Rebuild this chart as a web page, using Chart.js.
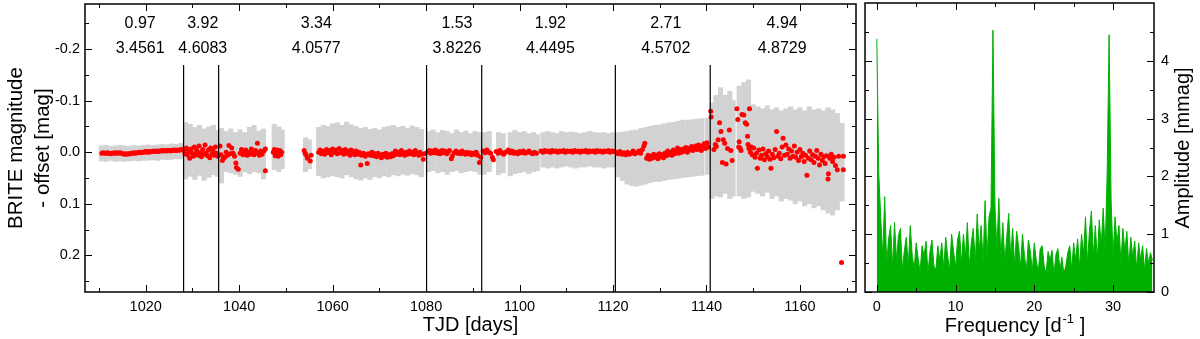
<!DOCTYPE html>
<html lang="en">
<head>
    <meta charset="UTF-8">
    <title>BRITE light curve and periodogram</title>
    <style>
        body {
            margin: 0;
            padding: 0;
            background-color: #fff;
        }

        .wrap {
            position: relative;
            width: 1200px;
            height: 339px;
        }

        .wrap canvas {
            position: absolute;
            top: 0;
        }
    </style>
</head>
<body>

<div class="wrap">
    <canvas id="lightCurve" width="860" height="339" style="left:0"></canvas>
    <canvas id="periodogram" width="340" height="339" style="left:860px"></canvas>
</div>

<script src="https://cdn.jsdelivr.net/npm/chart.js"></script>

<script>
// ---- light curve: gray cloud envelope (one bar per ~day) ----
const grayT = [
    1010.5, 1011.5, 1012.5, 1013.5, 1014.5, 1015.5, 1016.5, 1017.5, 1018.5, 1019.5,
    1020.5, 1021.5, 1022.5, 1023.5, 1024.5, 1025.5, 1026.5, 1027.5,
    1028.5, 1029.5, 1030.5, 1031.5, 1032.5, 1033.5, 1034.5, 1035.3,
    1036.2, 1037.2, 1038.2, 1039.2, 1040.2, 1041.2, 1042.2, 1043.2, 1044.2, 1045.2,
    1047.5, 1048.5, 1049.2,
    1054.2, 1055.0,
    1057, 1058, 1059, 1060, 1061, 1062, 1063, 1064, 1065, 1066, 1067, 1068, 1069, 1070,
    1071, 1072, 1073, 1074, 1075, 1076, 1077, 1078, 1079,
    1080.5, 1081.5, 1082.5, 1083.5, 1084.5, 1085.5, 1086.5, 1087.5, 1088.5, 1089.5, 1090.5, 1091.5,
    1092.5, 1093.5, 1095.5, 1096.5, 1098, 1099, 1100, 1101, 1102, 1103, 1103.8,
    1105, 1106, 1107, 1108, 1109, 1110, 1111, 1112, 1113, 1114, 1115, 1116, 1117, 1118, 1119, 1120,
    1121, 1122, 1123, 1124, 1125, 1126, 1127, 1128, 1129, 1130, 1131, 1132, 1133, 1134, 1135,
    1136, 1137, 1138, 1139, 1140.2,
    1141.2, 1142, 1143, 1144, 1145, 1145.7, 1147, 1148, 1149,
    1150, 1151, 1152, 1153, 1154, 1155, 1156, 1157, 1158, 1159, 1160, 1161, 1162, 1163, 1164,
    1165, 1166, 1167, 1168, 1169
];
const grayLo = [
    -0.012, -0.013, -0.011, -0.012, -0.013, -0.012, -0.011, -0.013, -0.012, -0.013,
    -0.014, -0.013, -0.014, -0.015, -0.014, -0.016, -0.015, -0.017,
    -0.058, -0.054, -0.048, -0.052, -0.045, -0.049, -0.052, -0.042,
    -0.046, -0.040, -0.045, -0.038, -0.043, -0.038, -0.048, -0.052, -0.041, -0.045,
    -0.054, -0.049, -0.043,
    -0.028, -0.024,
    -0.048, -0.052, -0.050, -0.055, -0.057, -0.052, -0.058, -0.053, -0.050, -0.046, -0.048, -0.044, -0.046, -0.043,
    -0.048, -0.050, -0.052, -0.048, -0.050, -0.046, -0.051, -0.048, -0.044,
    -0.040, -0.043, -0.038, -0.042, -0.040, -0.036, -0.043, -0.038, -0.041, -0.036, -0.040, -0.038,
    -0.038, -0.040, -0.038, -0.036, -0.038, -0.042, -0.038, -0.040, -0.036, -0.038, -0.034,
    -0.038, -0.040, -0.038, -0.036, -0.040, -0.038, -0.039, -0.038, -0.036, -0.038, -0.040, -0.038, -0.037, -0.038, -0.036, -0.038,
    -0.038, -0.039, -0.040, -0.042, -0.043, -0.046, -0.048, -0.050, -0.052, -0.053, -0.055, -0.057, -0.058, -0.060, -0.062,
    -0.062, -0.063, -0.064, -0.065, -0.066,
    -0.095, -0.110, -0.125, -0.110, -0.118, -0.100, -0.128, -0.135, -0.140,
    -0.092, -0.088, -0.084, -0.090, -0.082, -0.086, -0.080, -0.084, -0.088, -0.082, -0.086, -0.080, -0.088, -0.082, -0.084,
    -0.080, -0.086, -0.082, -0.075, -0.056
];
const grayHi = [
    0.017, 0.018, 0.016, 0.018, 0.017, 0.018, 0.017, 0.016, 0.017, 0.016,
    0.016, 0.015, 0.016, 0.014, 0.015, 0.014, 0.013, 0.013,
    0.052, 0.047, 0.053, 0.045, 0.055, 0.049, 0.044, 0.047,
    0.060, 0.038, 0.040, 0.043, 0.047, 0.038, 0.042, 0.038, 0.040, 0.052,
    0.034, 0.038, 0.032,
    0.038, 0.032,
    0.046, 0.050, 0.048, 0.046, 0.048, 0.050, 0.044, 0.048, 0.052, 0.054, 0.050, 0.053, 0.048, 0.050,
    0.046, 0.048, 0.044, 0.046, 0.043, 0.045, 0.042, 0.044, 0.048,
    0.038, 0.036, 0.040, 0.038, 0.043, 0.038, 0.036, 0.040, 0.038, 0.036, 0.038, 0.043,
    0.043, 0.038, 0.044, 0.040, 0.046, 0.042, 0.040, 0.038, 0.042, 0.038, 0.036,
    0.029, 0.031, 0.029, 0.031, 0.029, 0.027, 0.029, 0.031, 0.029, 0.029, 0.027, 0.029, 0.029, 0.031, 0.029, 0.029,
    0.048, 0.055, 0.062, 0.065, 0.066, 0.064, 0.062, 0.059, 0.057, 0.057, 0.055, 0.053, 0.052, 0.051, 0.049,
    0.048, 0.047, 0.046, 0.045, 0.043,
    0.090, 0.085, 0.087, 0.080, 0.090, 0.085, 0.085, 0.090, 0.087,
    0.076, 0.080, 0.085, 0.078, 0.090, 0.085, 0.095, 0.090, 0.093, 0.100, 0.095, 0.104, 0.100, 0.108, 0.104,
    0.112, 0.118, 0.122, 0.112, 0.095
];

// ---- light curve: red binned points [TJD, mag] ----
const redPts = [
    [1010.6,0.002],[1010.9,0.001],[1011.2,0.002],[1011.5,0.002],[1011.8,0.001],[1012.1,0.002],[1012.4,0.003],[1012.7,0.002],
    [1013.0,0.002],[1013.3,0.001],[1013.6,0.002],[1013.9,0.001],[1014.2,0.002],[1014.5,0.001],[1014.8,0.002],[1015.1,0.003],
    [1015.4,0.004],[1015.7,0.003],[1016.0,0.004],[1016.3,0.003],[1016.6,0.003],[1016.9,0.002],[1017.2,0.002],[1017.5,0.001],
    [1017.8,0.002],[1018.1,0.001],[1018.4,0.001],[1018.7,0.0],[1019.0,0.001],[1019.3,0.0],[1019.6,0.0],[1019.9,-0.001],
    [1020.2,0.0],[1020.5,-0.001],[1020.8,0.0],[1021.1,-0.001],[1021.4,-0.001],[1021.7,-0.002],[1022.0,-0.001],[1022.3,-0.002],
    [1022.6,-0.001],[1022.9,-0.002],[1023.2,-0.002],[1023.5,-0.003],[1023.8,-0.002],[1024.1,-0.003],[1024.4,-0.002],[1024.7,-0.003],
    [1025.0,-0.003],[1025.3,-0.002],[1025.6,-0.003],[1025.9,-0.004],[1026.2,-0.003],[1026.5,-0.004],[1026.8,-0.003],[1027.1,-0.004],
    [1027.4,-0.004],[1027.7,-0.005],[1027.9,-0.004],
    [1028.2,-0.004],[1028.4,0.003],[1028.7,-0.008],[1028.9,0.005],[1029.2,-0.002],[1029.4,0.012],[1029.7,-0.006],[1029.9,0.002],
    [1030.2,0.008],[1030.4,-0.010],[1030.7,0.003],[1030.9,-0.003],[1031.2,0.006],[1031.4,-0.012],[1031.7,0.001],[1031.9,0.009],
    [1032.2,-0.005],[1032.4,0.004],[1032.7,-0.014],[1032.9,0.002],[1033.2,0.007],[1033.4,-0.004],[1033.7,0.011],[1033.9,-0.008],
    [1034.2,0.003],[1034.4,-0.002],[1034.7,0.006],[1034.9,-0.010],[1035.2,0.002],[1035.4,0.008],
    [1035.9,-0.012],[1036.1,0.005],[1036.4,0.016],[1036.6,0.012],[1036.9,0.010],[1037.2,0.0],[1037.5,0.006],[1037.8,-0.013],
    [1038.1,0.003],[1038.4,-0.008],[1038.7,0.002],[1039.0,0.008],[1039.3,0.021],[1039.4,0.030],[1039.8,0.033],[1040.2,0.002],
    [1040.5,-0.005],[1040.8,0.005],[1041.1,0.001],[1041.4,-0.004],[1041.7,0.006],[1042.0,0.0],[1042.3,0.004],[1042.6,-0.006],
    [1042.9,0.002],[1043.2,0.005],[1043.5,-0.003],[1043.9,-0.017],[1044.0,0.001],[1044.3,0.006],[1044.6,-0.002],[1044.9,0.004],
    [1045.3,-0.002],[1045.6,-0.006],[1045.6,0.036],
    [1047.3,0.0],[1047.5,-0.005],[1047.7,0.007],[1047.9,0.002],[1048.1,-0.004],[1048.3,0.008],[1048.5,0.001],[1048.7,-0.003],
    [1048.9,0.005],[1049.1,0.0],
    [1053.9,-0.003],[1054.1,0.002],[1054.3,0.005],[1054.6,0.012],[1055.2,0.017],[1055.4,0.006],
    [1057.0,0.0],[1057.3,-0.004],[1057.6,0.003],[1058.0,-0.002],[1058.3,0.004],[1058.7,-0.005],[1059.0,0.001],[1059.4,-0.003],
    [1059.7,0.005],[1060.0,-0.006],[1060.4,0.0],[1060.7,-0.004],[1061.0,0.003],[1061.4,-0.007],[1061.7,0.001],[1062.0,-0.003],
    [1062.4,0.004],[1062.7,-0.005],[1063.0,0.002],[1063.4,-0.002],[1063.7,0.006],[1064.0,-0.004],[1064.4,0.001],[1064.7,0.005],
    [1065.0,-0.002],[1065.4,0.004],[1065.7,0.0],[1066.0,0.025],[1066.2,0.006],[1066.6,0.002],[1067.0,0.008],[1067.4,0.022],
    [1067.6,0.003],[1068.0,0.006],[1068.4,0.0],[1068.7,0.007],[1069.0,0.003],[1069.4,0.009],[1069.7,0.002],[1070.0,0.006],
    [1070.4,0.011],[1070.7,0.004],[1071.0,0.008],[1071.4,0.002],[1071.7,0.010],[1072.0,0.005],[1072.4,0.009],[1072.7,0.003],
    [1073.0,0.007],[1073.4,-0.002],[1073.7,0.004],[1074.0,0.0],[1074.4,0.005],[1074.7,-0.003],[1075.0,0.002],[1075.4,0.006],
    [1075.7,0.0],[1076.0,0.004],[1076.4,-0.002],[1076.7,0.003],[1077.0,0.0],[1077.4,0.005],[1077.7,-0.003],[1078.0,0.002],
    [1078.4,0.006],[1078.7,0.0],[1079.0,0.004],[1079.4,0.014],[1079.7,0.003],
    [1080.3,0.0],[1080.7,-0.003],[1081.0,0.002],[1081.4,-0.002],[1081.7,0.001],[1082.0,-0.004],[1082.4,0.002],[1082.7,-0.001],
    [1083.0,0.003],[1083.4,-0.003],[1083.7,0.001],[1084.0,-0.002],[1084.4,0.003],[1084.7,0.0],[1085.0,-0.003],[1085.4,0.013],
    [1085.6,0.008],[1086.0,0.001],[1086.4,-0.002],[1086.7,0.002],[1087.0,0.0],[1087.4,0.003],[1087.7,-0.002],[1088.0,0.001],
    [1088.4,0.004],[1088.7,0.0],[1089.0,0.003],[1089.4,0.001],[1089.7,0.005],[1090.0,0.002],[1090.4,0.004],[1090.7,0.0],
    [1091.0,0.006],[1091.4,0.020],[1091.7,0.010],
    [1092.2,-0.002],[1092.6,0.001],[1093.0,-0.004],[1093.4,0.0],[1093.8,0.002],[1094.2,0.010],[1094.4,0.015],[1095.0,-0.001],
    [1095.4,0.002],[1095.8,-0.003],[1096.2,0.001],[1096.6,0.004],[1097.0,0.0],[1097.6,-0.004],[1098.0,0.001],[1098.4,-0.002],
    [1098.8,0.002],[1099.2,0.0],[1099.6,0.003],[1100.0,-0.001],[1100.4,0.001],[1100.8,-0.002],[1101.2,0.002],[1101.6,0.0],
    [1102.0,-0.002],[1102.4,0.001],[1102.8,0.003],[1103.2,0.0],[1103.6,0.002],
    [1104.6,-0.002],[1105.0,0.0],[1105.4,-0.003],[1105.8,-0.001],[1106.2,-0.002],[1106.6,0.0],[1107.0,-0.003],[1107.4,-0.001],
    [1107.8,-0.002],[1108.2,0.0],[1108.6,-0.002],[1109.0,-0.001],[1109.4,-0.003],[1109.8,0.0],[1110.2,-0.002],[1110.6,-0.001],
    [1111.0,-0.002],[1111.4,0.0],[1111.8,-0.003],[1112.2,-0.001],[1112.6,-0.002],[1113.0,0.0],[1113.4,-0.002],[1113.8,-0.001],
    [1114.2,-0.003],[1114.6,0.0],[1115.0,-0.002],[1115.4,-0.001],[1115.8,-0.002],[1116.2,0.0],[1116.6,-0.003],[1117.0,-0.001],
    [1117.4,-0.002],[1117.8,0.0],[1118.2,-0.002],[1118.6,-0.001],[1119.0,-0.003],[1119.4,0.0],[1119.8,-0.002],[1120.2,-0.001],
    [1120.7,0.0],[1121.1,0.003],[1121.5,-0.001],[1121.9,0.004],[1122.3,0.001],[1122.7,0.005],[1123.1,0.0],[1123.5,0.004],
    [1123.9,0.002],[1124.3,-0.002],[1124.7,0.003],[1125.1,0.001],[1125.5,-0.002],[1125.9,0.002],[1126.3,-0.005],[1126.6,-0.012],
    [1126.8,-0.017],[1127.2,0.012],[1127.5,0.006],[1127.8,0.014],[1128.1,0.008],[1128.4,0.012],[1128.7,0.004],[1129.0,0.010],
    [1129.3,0.006],[1129.6,0.013],[1129.9,0.003],[1130.2,0.009],[1130.5,0.005],[1130.8,0.011],[1131.1,0.002],[1131.4,0.007],
    [1131.7,-0.002],[1132.0,0.005],[1132.3,0.0],[1132.6,0.006],[1132.9,-0.004],[1133.2,0.003],[1133.5,-0.001],[1133.8,-0.008],
    [1134.1,0.002],[1134.4,-0.005],[1134.7,0.0],[1135.0,-0.006],[1135.3,-0.002],[1135.6,-0.009],[1135.9,0.0],[1136.2,-0.007],
    [1136.5,-0.004],[1136.8,-0.011],[1137.1,-0.003],[1137.4,-0.008],[1137.7,-0.012],[1138.0,-0.005],[1138.3,-0.014],[1138.6,-0.008],
    [1138.9,-0.003],[1139.2,-0.012],[1139.5,-0.016],[1139.8,-0.007],[1140.1,-0.018],[1140.4,-0.010],
    [1140.9,-0.079],[1141.0,-0.068],[1141.6,-0.005],[1141.9,-0.015],[1142.1,-0.011],[1142.5,-0.024],[1142.8,-0.057],[1143.1,-0.040],
    [1143.4,0.020],[1143.6,-0.024],[1143.9,-0.017],[1144.2,0.023],[1144.5,-0.007],[1144.9,-0.043],[1145.2,-0.003],[1145.5,0.016],
    [1146.5,-0.084],[1146.7,-0.063],[1146.9,-0.010],[1147.0,-0.020],[1147.2,-0.008],[1147.4,-0.003],[1147.6,-0.073],[1148.0,-0.072],
    [1148.3,-0.057],[1148.6,-0.054],[1148.8,-0.031],[1148.9,-0.015],[1149.1,-0.007],[1149.2,-0.084],[1149.4,0.0],[1149.6,-0.010],
    [1149.8,0.005],[1150.1,-0.008],[1150.4,0.010],[1150.7,0.002],[1150.9,0.031],[1151.2,-0.004],[1151.5,0.012],[1151.8,0.006],
    [1152.1,-0.006],[1152.4,0.015],[1152.7,0.003],[1153.0,0.009],[1153.3,-0.002],[1153.6,0.014],[1153.8,0.031],[1154.1,0.004],
    [1154.4,0.011],[1154.7,-0.005],[1155.0,-0.040],[1155.3,0.008],[1155.6,0.002],[1155.9,0.013],[1156.2,-0.010],[1156.4,-0.027],
    [1156.7,0.006],[1157.0,-0.014],[1157.3,0.004],[1157.6,-0.006],[1157.9,0.012],[1158.2,-0.002],[1158.5,0.008],[1158.8,-0.012],
    [1159.1,0.010],[1159.4,0.0],[1159.7,0.016],[1160.0,-0.005],[1160.3,0.009],[1160.6,0.002],[1160.9,0.018],[1161.2,0.006],
    [1161.5,0.045],[1161.8,0.012],[1162.1,-0.002],[1162.4,0.015],[1162.7,0.005],[1163.0,0.020],[1163.3,0.008],[1163.6,-0.003],
    [1163.9,0.012],[1164.2,0.025],[1164.5,0.004],[1164.8,0.016],[1165.1,0.009],[1165.4,0.022],[1165.7,0.007],[1166.0,0.052],
    [1166.1,0.042],[1166.4,0.012],[1166.7,0.004],[1167.0,0.018],[1167.3,0.010],[1167.6,0.026],[1168.0,0.034],[1168.3,0.008],
    [1168.9,0.214],[1169.3,0.034],[1169.3,0.008]
];

// ---- segment boundaries and their labels ----
const boundaryT = [1028.1, 1035.6, 1080.1, 1091.9, 1120.5, 1140.8];
const boundaryTop = -0.169;
const labelT = [1018.8, 1032.2, 1056.5, 1086.6, 1106.6, 1131.3, 1156.2];
const labelRow1 = ['0.97', '3.92', '3.34', '1.53', '1.92', '2.71', '4.94'];
const labelRow2 = ['3.4561', '4.6083', '4.0577', '3.8226', '4.4495', '4.5702', '4.8729'];

// ---- axes ----
const tjdTicks = [1020, 1040, 1060, 1080, 1100, 1120, 1140, 1160];
const tjdMinor = [1010, 1030, 1050, 1070, 1090, 1110, 1130, 1150, 1170];
const magTicks = [-0.2, -0.1, 0.0, 0.1, 0.2];
const magMinor = [-0.25, -0.15, -0.05, 0.05, 0.15, 0.25];
const freqTicks = [0, 10, 20, 30];
const freqMinor = [5, 15, 25];
const ampTicks = [0, 1, 2, 3, 4];
const ampMinor = [0.5, 1.5, 2.5, 3.5, 4.5];

// ---- periodogram ----
const freqs = [
    0,0.25,0.5,0.75,1,1.25,1.5,1.75,2,2.25,2.5,2.75,3,3.25,3.5,3.75,4,4.25,4.5,4.75,
    5,5.25,5.5,5.75,6,6.25,6.5,6.75,7,7.25,7.5,7.75,8,8.25,8.5,8.75,9,9.25,9.5,9.75,
    10,10.25,10.5,10.75,11,11.25,11.5,11.75,12,12.25,12.5,12.75,13,13.25,13.5,13.75,14,14.25,14.5,14.75,
    15,15.25,15.5,15.75,16,16.25,16.5,16.75,17,17.25,17.5,17.75,18,18.25,18.5,18.75,19,19.25,19.5,19.75,
    20,20.25,20.5,20.75,21,21.25,21.5,21.75,22,22.25,22.5,22.75,23,23.25,23.5,23.75,24,24.25,24.5,24.75,
    25,25.25,25.5,25.75,26,26.25,26.5,26.75,27,27.25,27.5,27.75,28,28.25,28.5,28.75,29,29.25,29.5,29.75,
    30,30.25,30.5,30.75,31,31.25,31.5,31.75,32,32.25,32.5,32.75,33,33.25,33.5,33.75,34,34.25,34.5,34.75,35
];
const amps = [
    4.38,2.05,1.28,0.62, 1.65,0.48,0.92,1.15, 0.42,1.20,0.55,0.98, 1.10,0.38,0.72,0.95, 0.45,1.15,0.62,0.40,
    0.85,0.58,0.35,0.80, 0.62,0.88,0.32,0.70, 0.90,0.45,0.38,0.80, 0.55,0.85,0.40,0.95, 0.62,0.38,1.00,0.70,
    0.42,0.90,1.05,0.48, 1.00,0.60,1.20,0.45, 0.85,1.10,0.50,1.35, 0.70,1.15,0.52,1.58, 0.60,1.30,1.45,4.53,
    1.50,0.75,1.62,0.58, 1.20,0.52,0.95,1.36, 0.60,1.10,0.45,1.05, 0.80,0.42,1.00,0.62, 0.38,0.90,0.70,0.36,
    0.85,0.55,0.34,0.75, 0.80,0.45,0.32,0.70, 0.55,0.72,0.30,0.65, 0.75,0.38,0.60,0.32, 0.45,0.68,0.80,0.38,
    0.85,0.55,0.92,0.42, 1.00,0.65,1.30,0.50, 1.05,1.40,0.62,1.15, 0.55,1.25,0.80,1.45, 0.70,2.05,4.45,1.60,
    0.60,1.30,0.85,1.15, 0.50,1.10,0.70,1.05, 0.45,0.95,0.60,0.88, 0.40,0.85,0.55,0.80, 0.38,0.75,0.50,0.68, 0.55
];

Chart.defaults.font.family = "'Liberation Sans', Arial, sans-serif";
Chart.defaults.color = '#000';
Chart.defaults.animation = false;

// frame plus inward tick marks on all four sides
const frameTicks = {
    id: 'frameTicks',
    afterDraw(chart, args, opts) {
        const { ctx, chartArea: a } = chart;
        const sx = chart.scales.x, sy = chart.scales.y;
        ctx.save();
        ctx.strokeStyle = '#000';
        ctx.lineWidth = 1;
        ctx.beginPath();
        const xMarks = (vals, len) => vals.forEach(v => {
            const px = Math.round(sx.getPixelForValue(v)) + 0.5;
            ctx.moveTo(px, a.bottom); ctx.lineTo(px, a.bottom - len);
            ctx.moveTo(px, a.top); ctx.lineTo(px, a.top + len);
        });
        const yMarks = (vals, len) => vals.forEach(v => {
            const py = Math.round(sy.getPixelForValue(v)) + 0.5;
            ctx.moveTo(a.left, py); ctx.lineTo(a.left + len, py);
            ctx.moveTo(a.right, py); ctx.lineTo(a.right - len, py);
        });
        xMarks(opts.xMajor, 7);
        xMarks(opts.xMinor, 4);
        yMarks(opts.yMajor, 7);
        yMarks(opts.yMinor, 4);
        ctx.stroke();
        ctx.lineWidth = 1.5;
        ctx.strokeRect(a.left, a.top, a.right - a.left, a.bottom - a.top);
        ctx.restore();
    }
};

// numbers above each segment
const segmentLabels = {
    id: 'segmentLabels',
    afterDraw(chart) {
        const { ctx } = chart;
        const sx = chart.scales.x, sy = chart.scales.y;
        ctx.save();
        ctx.font = "16px 'Liberation Sans', Arial, sans-serif";
        ctx.fillStyle = '#000';
        ctx.textAlign = 'center';
        ctx.textBaseline = 'middle';
        labelT.forEach((t, i) => {
            const px = sx.getPixelForValue(t);
            ctx.fillText(labelRow1[i], px, sy.getPixelForValue(-0.25));
            ctx.fillText(labelRow2[i], px, sy.getPixelForValue(-0.2));
        });
        ctx.restore();
    }
};

// axis titles of the periodogram (superscript and bottom-to-top text)
const periodTitles = {
    id: 'periodTitles',
    afterDraw(chart) {
        const { ctx } = chart;
        const big = "20px 'Liberation Sans', Arial, sans-serif";
        const small = "13px 'Liberation Sans', Arial, sans-serif";
        ctx.save();
        ctx.fillStyle = '#000';
        ctx.textBaseline = 'alphabetic';
        ctx.font = big;
        const p1 = 'Frequency [d', p3 = ' ]';
        const w1 = ctx.measureText(p1).width, w3 = ctx.measureText(p3).width;
        ctx.font = small;
        const p2 = '-1';
        const w2 = ctx.measureText(p2).width + 1;
        let x = 155 - (w1 + w2 + w3) / 2;
        const base = 332;
        ctx.font = big;
        ctx.fillText(p1, x, base);
        ctx.font = small;
        ctx.fillText(p2, x + w1 + 1, base - 9);
        ctx.font = big;
        ctx.fillText(p3, x + w1 + w2, base);

        ctx.translate(323, 148);
        ctx.rotate(-Math.PI / 2);
        ctx.textAlign = 'center';
        ctx.textBaseline = 'middle';
        ctx.fillText('Amplitude [mmag]', 0, 0);
        ctx.restore();
    }
};

const setTicks = list => scale => { scale.ticks = list.map(v => ({ value: v })); };
const tickFont = { size: 14.5 };
// keep the plot area where we put it: no extra room for end labels
const fixSize = (w, h) => s => {
    if (w) s.width = w;
    if (h) s.height = h;
    s.paddingTop = 0; s.paddingBottom = 0; s.paddingLeft = 0; s.paddingRight = 0;
};

// vertical boundary lines, separated by gaps
const boundaryData = [];
boundaryT.forEach(t => {
    boundaryData.push({ x: t, y: boundaryTop }, { x: t, y: 0.3 }, { x: t, y: null });
});

new Chart(document.getElementById('lightCurve'), {
    type: 'scatter',
    data: {
        datasets: [
            {
                type: 'line',
                data: boundaryData,
                borderColor: '#000',
                borderWidth: 1.2,
                pointRadius: 0,
                spanGaps: false,
                fill: false,
                order: 1
            },
            {
                type: 'scatter',
                data: redPts.map(p => ({ x: p[0], y: p[1] })),
                pointRadius: 2.5,
                pointBackgroundColor: '#ff0000',
                pointBorderWidth: 0,
                order: 2
            },
            {
                type: 'bar',
                data: grayT.map((t, i) => ({ x: t, y: [grayLo[i], grayHi[i]] })),
                backgroundColor: '#d2d2d2',
                barThickness: 4.4,
                order: 3
            }
        ]
    },
    options: {
        responsive: false,
        devicePixelRatio: 1,
        layout: { padding: { top: 4, right: 4, left: 0, bottom: 0 } },
        plugins: {
            legend: { display: false },
            tooltip: { enabled: false },
            frameTicks: { xMajor: tjdTicks, xMinor: tjdMinor, yMajor: magTicks, yMinor: magMinor }
        },
        scales: {
            x: {
                type: 'linear',
                min: 1007,
                max: 1172,
                offset: false,
                grid: { display: false, drawTicks: false, offset: false },
                border: { display: false },
                afterBuildTicks: setTicks(tjdTicks),
                ticks: { font: tickFont, padding: 6, maxRotation: 0, autoSkip: false, callback: v => String(v) },
                title: { display: true, text: 'TJD [days]', font: { size: 20 }, padding: { top: 0, bottom: 2 } },
                afterFit: fixSize(0, 47)
            },
            y: {
                type: 'linear',
                reverse: true,
                min: -0.287,
                max: 0.271,
                grid: { display: false, drawTicks: false },
                border: { display: false },
                afterBuildTicks: setTicks(magTicks),
                ticks: { font: tickFont, padding: 5, callback: v => Number(v).toFixed(1) },
                title: {
                    display: true,
                    text: ['BRITE magnitude', '- offset [mag]'],
                    font: { size: 20.5, lineHeight: 1.3 },
                    padding: { top: 3, bottom: 0 }
                },
                afterFit: fixSize(85, 0)
            }
        }
    },
    plugins: [frameTicks, segmentLabels]
});

new Chart(document.getElementById('periodogram'), {
    type: 'line',
    data: {
        datasets: [{
            data: freqs.map((f, i) => ({ x: f, y: amps[i] })),
            borderColor: '#00b000',
            backgroundColor: '#00b000',
            borderWidth: 1,
            pointRadius: 0,
            tension: 0,
            fill: 'origin'
        }]
    },
    options: {
        responsive: false,
        devicePixelRatio: 1,
        layout: { padding: { top: 3, right: 0, left: 5, bottom: 0 } },
        plugins: {
            legend: { display: false },
            tooltip: { enabled: false },
            frameTicks: { xMajor: freqTicks, xMinor: freqMinor, yMajor: ampTicks, yMinor: ampMinor }
        },
        scales: {
            x: {
                type: 'linear',
                min: -1.5,
                max: 35.2,
                grid: { display: false, drawTicks: false },
                border: { display: false },
                afterBuildTicks: setTicks(freqTicks),
                ticks: { font: tickFont, padding: 6, maxRotation: 0, autoSkip: false, callback: v => String(v) },
                afterFit: fixSize(0, 47)
            },
            y: {
                type: 'linear',
                position: 'right',
                min: 0,
                max: 5,
                grid: { display: false, drawTicks: false },
                border: { display: false },
                afterBuildTicks: setTicks(ampTicks),
                ticks: { font: tickFont, padding: 7, callback: v => String(v) },
                afterFit: fixSize(46, 0)
            }
        }
    },
    plugins: [frameTicks, periodTitles]
});
</script>

</body>
</html>
